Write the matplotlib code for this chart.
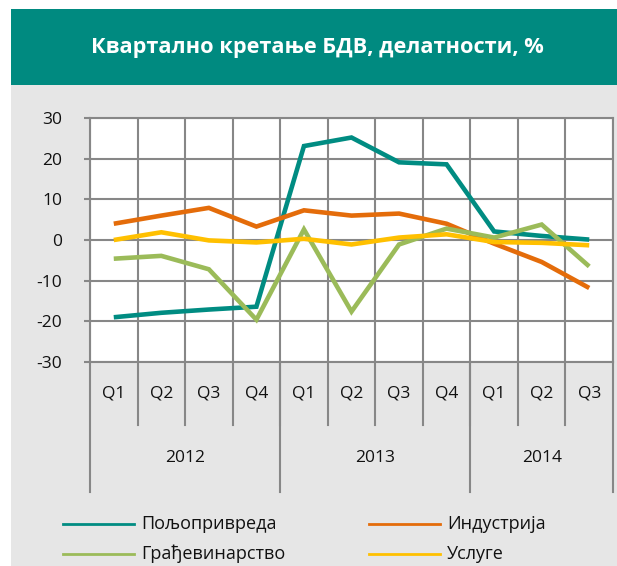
import matplotlib
matplotlib.use("Agg")
import matplotlib.pyplot as plt
from matplotlib.patches import Rectangle
from matplotlib.lines import Line2D

plt.rcParams['font.family'] = ['Open Sans', 'DejaVu Sans']
plt.rcParams['axes.unicode_minus'] = False

title = "Квартално кретање БДВ, делатности, %"
quarters = ["Q1", "Q2", "Q3", "Q4", "Q1", "Q2", "Q3", "Q4", "Q1", "Q2", "Q3"]
years = ["2012", "2013", "2014"]
year_counts = [4, 4, 3]

series_names = ["Пољопривреда", "Индустрија", "Грађевинарство", "Услуге"]
poljoprivreda = [-19.0, -17.9, -17.1, -16.4, 23.1, 25.2, 19.1, 18.6, 2.1, 1.0, 0.1]
industrija = [4.0, 6.0, 7.9, 3.3, 7.3, 6.0, 6.5, 4.0, -0.9, -5.4, -11.8]
gradjevinarstvo = [-4.6, -3.9, -7.2, -19.6, 2.6, -17.6, -1.1, 2.8, 0.6, 3.8, -6.5]
usluge = [0.0, 1.9, -0.1, -0.6, 0.3, -1.1, 0.6, 1.4, -0.5, -0.7, -1.3]
series = [poljoprivreda, industrija, gradjevinarstvo, usluge]
colors = ["#008C82", "#E46C0A", "#9BBB59", "#FFC000"]

W, H = 617, 566
fig = plt.figure(figsize=(W / 100, H / 100), dpi=100)
fig.patch.set_facecolor("white")

def fx(px):
    return px / W

def fy(py):
    return 1 - py / H

# backgrounds
fig.patches.append(Rectangle((fx(11), 0), fx(W - 11), fy(85), transform=fig.transFigure,
                             facecolor="#E6E6E6", edgecolor="none", zorder=-10))
fig.patches.append(Rectangle((fx(11), fy(85)), fx(W - 11), fy(9) - fy(85), transform=fig.transFigure,
                             facecolor="#008A80", edgecolor="none", zorder=-10))
fig.text(fx(317), fy(48), title, color="white", fontsize=15.7, fontweight="bold",
         ha="center", va="center")

L, R, T, B = 90, 613, 118, 362
ax = fig.add_axes([fx(L), fy(B), fx(R - L), fy(T) - fy(B)])
ax.set_zorder(1)
ax.set_facecolor("white")
n = len(quarters)
x = list(range(n))
for s, c in zip(series, colors):
    ax.plot(x, s, color=c, lw=3.3, solid_joinstyle="miter", solid_capstyle="butt", zorder=3)

ax.set_xlim(-0.5, n - 0.5)
ax.set_ylim(-30, 30)
ax.set_yticks(range(-30, 31, 10))
ax.set_xticks([])
ax.set_xticks([i - 0.5 for i in range(n + 1)], minor=True)
ax.tick_params(axis="x", which="both", length=0, labelbottom=False)
ax.tick_params(axis="y", length=4, width=1.5, color="#878787", pad=16, labelsize=12.5,
               labelcolor="#111111")
ax.grid(True, axis="y", which="major", color="#878787", lw=1.5, zorder=1)
ax.grid(True, axis="x", which="minor", color="#878787", lw=1.5, zorder=1)
ax.set_axisbelow(True)
for sp in ax.spines.values():
    sp.set_color("#878787")
    sp.set_linewidth(1.5)

# category axis
trans = ax.get_xaxis_transform()
h = B - T
def ay(py):
    return (B - py) / h

for i in range(1, n):
    ax.plot([i - 0.5, i - 0.5], [0, ay(425)], transform=trans, color="#878787", lw=1.5,
            clip_on=False, zorder=1)
for i, q in enumerate(quarters):
    ax.text(i, ay(393), q, transform=trans, ha="center", va="center", fontsize=12.5,
            color="#111111")
start = 0
bounds = [0]
for y, cnt in zip(years, year_counts):
    ax.text(start + cnt / 2 - 0.5, ay(458), y, transform=trans, ha="center", va="center",
            fontsize=12.5, color="#111111")
    start += cnt
    bounds.append(start)
for b in bounds:
    ax.plot([b - 0.5, b - 0.5], [0, ay(492)], transform=trans, color="#878787", lw=1.5,
            clip_on=False, zorder=1)

# legend
pos = [(63, 524), (369, 524), (63, 554), (369, 554)]
for (px, py), name, c in zip(pos, series_names, colors):
    fig.lines.append(Line2D([fx(px), fx(px + 71)], [fy(py), fy(py)], transform=fig.transFigure,
                            color=c, lw=2.0))
    fig.text(fx(px + 78), fy(py), name, fontsize=13, ha="left", va="center", color="#111111")

fig.savefig("out.png", dpi=100)
